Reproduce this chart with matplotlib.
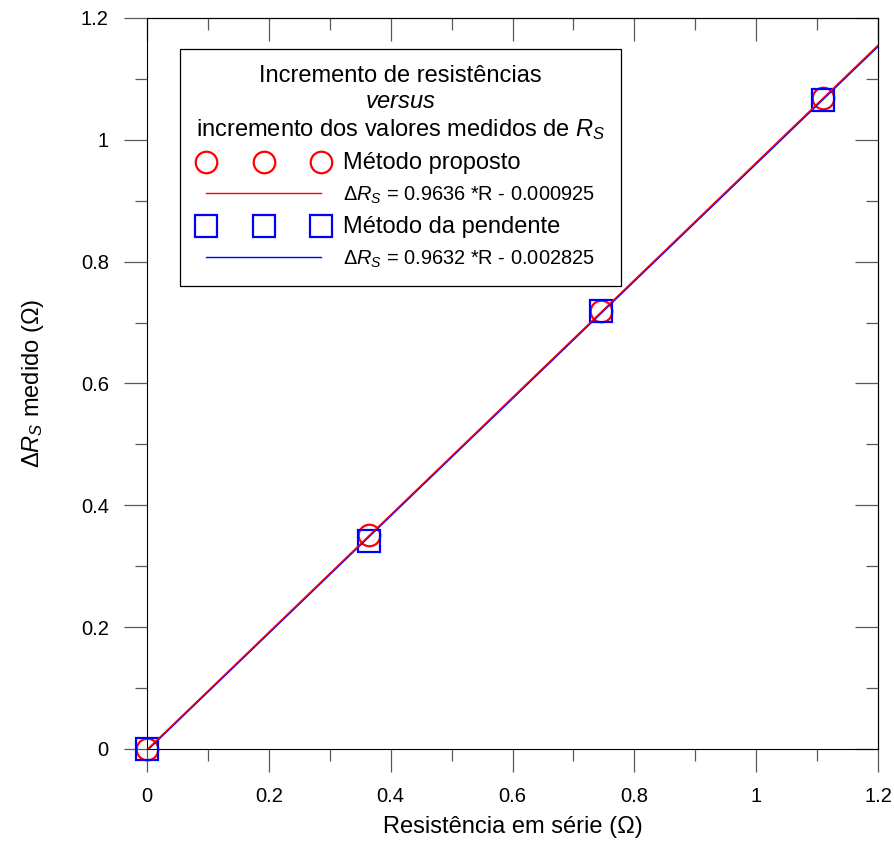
import numpy as np
import matplotlib
matplotlib.use('Agg')
import matplotlib.pyplot as plt
import matplotlib.ticker as mtick
from matplotlib.legend_handler import HandlerLine2D

plt.rcParams['font.family'] = ['Liberation Sans', 'DejaVu Sans']
plt.rcParams['mathtext.fontset'] = 'custom'
plt.rcParams['mathtext.rm'] = 'Liberation Sans'
plt.rcParams['mathtext.it'] = 'Liberation Sans:italic'

# measured data
r_serie = [0.0, 0.365, 0.746, 1.110]
dr_proposto = [0.0, 0.351, 0.719, 1.069]
dr_pendente = [0.0, 0.341, 0.719, 1.065]

# linear fits (slope, intercept)
fit_proposto = (0.9636, -0.000925)
fit_pendente = (0.9632, -0.002825)
x_fit = np.array([0.0, 1.2])

fig = plt.figure(figsize=(8.94, 8.61), dpi=100)
ax = fig.add_axes([147/894, 1-749/861, 731/894, 731/861])

ax.plot(r_serie, dr_proposto, 'o', ms=15.5, mfc='none', mec='red', mew=1.6,
        clip_on=False, zorder=3, label='Método proposto')
ax.plot(x_fit, fit_proposto[0]*x_fit + fit_proposto[1], color='red', lw=1.0, zorder=6,
        label=r'$\Delta R_S$ = 0.9636 *R - 0.000925')
ax.plot(r_serie, dr_pendente, 's', ms=16.5, mfc='none', mec='blue', mew=1.6,
        clip_on=False, zorder=4, label='Método da pendente')
ax.plot(x_fit, fit_pendente[0]*x_fit + fit_pendente[1], color='blue', lw=1.0, zorder=5,
        label=r'$\Delta R_S$ = 0.9632 *R - 0.002825')

ax.set_xlim(0, 1.2)
ax.set_ylim(0, 1.2)
for axis in (ax.xaxis, ax.yaxis):
    axis.set_major_locator(mtick.MultipleLocator(0.2))
    axis.set_minor_locator(mtick.MultipleLocator(0.1))
    axis.set_major_formatter(mtick.FormatStrFormatter('%g'))

ax.tick_params(which='major', direction='out', length=16.5, width=0.9, color='0.35',
               labelsize=14.5, pad=11)
ax.tick_params(which='minor', direction='out', length=8.5, width=0.9, color='0.35')
ax.tick_params(axis='x', pad=11)

# inward ticks on top and right
top = ax.secondary_xaxis('top')
right = ax.secondary_yaxis('right')
for sec, axis in ((top, top.xaxis), (right, right.yaxis)):
    axis.set_major_locator(mtick.MultipleLocator(0.2))
    axis.set_minor_locator(mtick.MultipleLocator(0.1))
    sec.tick_params(which='major', direction='in', length=16.5, width=0.9, color='0.35')
    sec.tick_params(which='minor', direction='in', length=8.5, width=0.9, color='0.35')
    axis.set_major_formatter(mtick.NullFormatter())

ax.set_xlabel('Resistência em série (Ω)', fontsize=17, labelpad=7)
ax.set_ylabel(r'$\Delta R_S$ medido (Ω)', fontsize=17, labelpad=25)

titulo = ('Incremento de resistências\n' + r'$\mathit{versus}$' + '\n'
          + r'incremento dos valores medidos de $R_S$')
leg = ax.legend(loc='upper left', bbox_to_anchor=(0.045, 0.957), borderaxespad=0,
                numpoints=3, handlelength=5.75, handletextpad=1.1, labelspacing=0.52,
                fontsize=14.4, title=titulo, title_fontsize=17, fancybox=False,
                framealpha=1, edgecolor='black', borderpad=0.8,
                handler_map={plt.Line2D: HandlerLine2D(marker_pad=0)})
leg.get_frame().set_linewidth(0.9)
leg.get_title().set_multialignment('center')
for txt in leg.get_texts():
    if txt.get_text().startswith('Método'):
        txt.set_fontsize(17)

fig.savefig('out.png', dpi=100)
